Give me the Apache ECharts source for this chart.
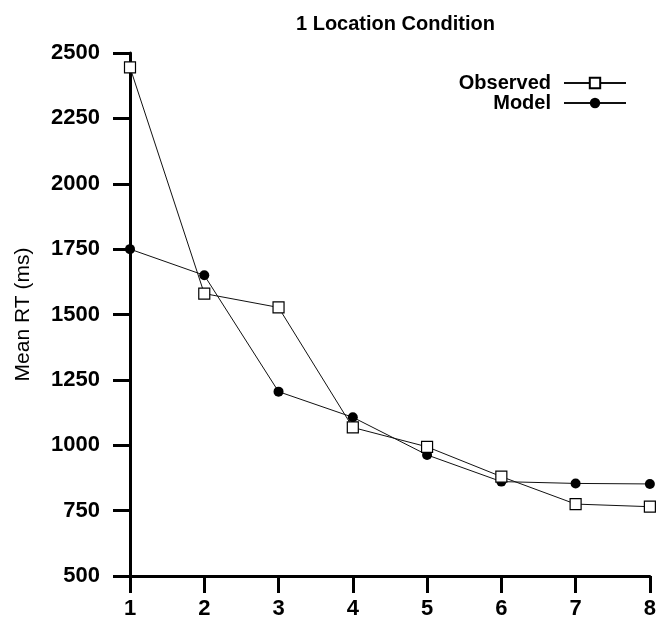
<!DOCTYPE html>
<html>
<head>
<meta charset="utf-8">
<script src="https://cdn.jsdelivr.net/npm/echarts@6/dist/echarts.min.js"></script>
<style>
  html, body { margin: 0; padding: 0; background: #fff; }
  #chart { width: 659px; height: 626px; }
</style>
</head>
<body>
<div id="chart"></div>
<script>
// Display set size (x positions)
const setSizes = [1, 2, 3, 4, 5, 6, 7, 8];
// Mean response times in ms
const observedRT = [2445, 1580, 1527, 1068, 994, 880, 775, 765];
const modelRT = [1750, 1650, 1205, 1107, 963, 861, 854, 852];

const FONT = '"Liberation Sans", Arial, Helvetica, sans-serif';

const pairs = (ys) => setSizes.map((x, i) => [x, ys[i]]);

const chart = echarts.init(document.getElementById('chart'), null, { renderer: 'canvas' });

chart.setOption({
  animation: false,
  backgroundColor: '#fff',
  title: {
    text: '1 Location Condition',
    left: 291,
    top: 9,
    textStyle: { fontFamily: FONT, fontSize: 20, fontWeight: 'bold', color: '#000' }
  },
  legend: {
    orient: 'vertical',
    right: 27,
    top: 68,
    align: 'right',
    itemWidth: 62,
    itemHeight: 13,
    itemGap: 0,
    textStyle: {
      fontFamily: FONT, fontSize: 20, fontWeight: 'bold', color: '#000',
      lineHeight: 20, padding: [0, 8, 0, 0]
    },
    data: ['Observed', 'Model']
  },
  grid: { left: 130, right: 6, top: 53, bottom: 50, containLabel: false },
  xAxis: {
    type: 'value',
    min: 1,
    max: 8,
    interval: 1,
    splitLine: { show: false },
    axisLine: { show: true, lineStyle: { color: '#000', width: 3 } },
    axisTick: { show: true, inside: false, length: 17, lineStyle: { color: '#000', width: 3 } },
    axisLabel: {
      margin: 22,
      formatter: (v) => String(v),
      fontFamily: FONT, fontSize: 22, fontWeight: 'bold', color: '#000',
      showMinLabel: true, showMaxLabel: true
    }
  },
  yAxis: {
    type: 'value',
    min: 500,
    max: 2500,
    interval: 250,
    name: 'Mean RT (ms)',
    nameLocation: 'middle',
    nameGap: 96,
    nameTextStyle: { fontFamily: FONT, fontSize: 21, color: '#000' },
    splitLine: { show: false },
    axisLine: { show: true, lineStyle: { color: '#000', width: 3 } },
    axisTick: { show: true, inside: false, length: 17, lineStyle: { color: '#000', width: 3 } },
    axisLabel: {
      margin: 30,
      formatter: (v) => String(v),
      fontFamily: FONT, fontSize: 22, fontWeight: 'bold', color: '#000',
      showMinLabel: true, showMaxLabel: true
    }
  },
  series: [
    {
      name: 'Observed',
      type: 'line',
      data: pairs(observedRT),
      symbol: 'rect',
      symbolSize: 11,
      lineStyle: { color: '#111', width: 1 },
      itemStyle: { color: '#fff', borderColor: '#000', borderWidth: 1.2 },
      z: 3
    },
    {
      name: 'Model',
      type: 'line',
      data: pairs(modelRT),
      symbol: 'circle',
      symbolSize: 10,
      lineStyle: { color: '#111', width: 1 },
      itemStyle: { color: '#000', borderColor: '#000', borderWidth: 0 },
      z: 2
    }
  ]
});
</script>
</body>
</html>
